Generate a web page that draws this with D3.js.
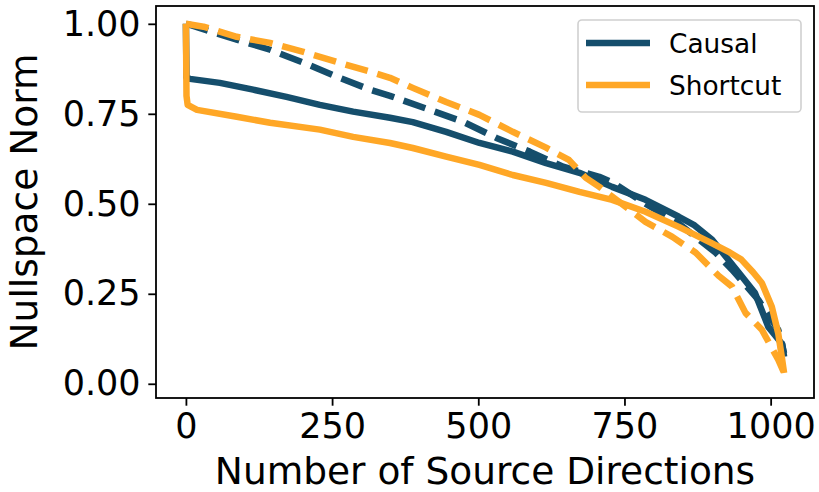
<!DOCTYPE html>
<html>
<head>
<meta charset="utf-8">
<script src="https://cdn.jsdelivr.net/npm/d3@7"></script>
<style>
  body { margin: 0; background: #fff; }
  svg { display: block; font-family: "DejaVu Sans", sans-serif; }
</style>
</head>
<body>
<svg id="chart" width="819" height="492"></svg>
<script>
// values: [index, nullspace norm]
const causalSolid = [[0,1.0],[1,0.85],[7,0.847],[58,0.836],[115,0.817],[172,0.797],[229,0.775],[286,0.756],[349,0.739],[388,0.727],[445,0.70],[502,0.669],[559,0.645],[616,0.613],[673,0.586],[729,0.547],[786,0.511],[843,0.464],[870,0.44],[900,0.40],[920,0.36],[945,0.31],[973,0.253],[996,0.158],[1020,0.11],[1023,0.075]];
const causalDashed = [[0,1.0],[7,0.997],[87,0.956],[144,0.928],[201,0.892],[258,0.853],[315,0.817],[349,0.80],[417,0.761],[474,0.728],[531,0.683],[588,0.645],[645,0.603],[707,0.575],[729,0.56],[786,0.50],[843,0.445],[906,0.364],[934,0.317],[979,0.233],[1013,0.15],[1023,0.085]];
const shortcutSolid = [[0,1.0],[1,0.80],[3,0.775],[19,0.761],[87,0.742],[144,0.725],[229,0.706],[286,0.686],[349,0.669],[388,0.655],[445,0.631],[502,0.608],[559,0.58],[616,0.558],[673,0.533],[729,0.511],[786,0.478],[843,0.436],[900,0.39],[930,0.365],[950,0.345],[970,0.31],[985,0.28],[1002,0.214],[1013,0.14],[1019,0.075],[1023,0.03]];
const shortcutDashed = [[0,1.0],[30,0.992],[87,0.964],[144,0.947],[201,0.922],[258,0.894],[315,0.867],[349,0.85],[388,0.822],[445,0.783],[502,0.747],[559,0.70],[616,0.656],[655,0.622],[684,0.572],[707,0.547],[729,0.52],[786,0.45],[832,0.408],[872,0.364],[911,0.30],[934,0.27],[957,0.197],[985,0.15],[1013,0.067],[1023,0.03]];

const xTicks = [0, 250, 500, 750, 1000];
const yTicks = [0, 0.25, 0.5, 0.75, 1.0];
const seriesNames = ["Causal", "Shortcut"];
const colors = { Causal: "#154e6c", Shortcut: "#ffa726" };

const width = 819, height = 492;
const margin = { top: 6, right: 5, bottom: 94, left: 156 };

const svg = d3.select("#chart");

const xscale = d3.scaleLinear()
    .domain([-51.15, 1074.15])
    .range([margin.left, width - margin.right]);
const yscale = d3.scaleLinear()
    .domain([-0.0395, 1.0495])
    .range([height - margin.bottom, margin.top]);

const line = d3.line()
    .x(d => xscale(d[0]))
    .y(d => yscale(d[1]));

const plot = svg.append("g");

const lines = [
    { data: causalSolid, color: colors.Causal, dash: null },
    { data: causalDashed, color: colors.Causal, dash: "23,10" },
    { data: shortcutSolid, color: colors.Shortcut, dash: null },
    { data: shortcutDashed, color: colors.Shortcut, dash: "23,10" },
];

lines.forEach(l => {
    plot.append("path")
        .datum(l.data)
        .attr("fill", "none")
        .attr("stroke", l.color)
        .attr("stroke-width", 6.5)
        .attr("stroke-linejoin", "round")
        .attr("stroke-dasharray", l.dash)
        .attr("d", line);
});

// axes
const xAxis = svg.append("g")
    .attr("transform", `translate(0, ${height - margin.bottom})`)
    .call(d3.axisBottom(xscale).tickValues(xTicks).tickFormat(d3.format("d"))
        .tickSize(7.7).tickPadding(7.7).tickSizeOuter(0));
const yAxis = svg.append("g")
    .attr("transform", `translate(${margin.left}, 0)`)
    .call(d3.axisLeft(yscale).tickValues(yTicks).tickFormat(d3.format(".2f"))
        .tickSize(7.7).tickPadding(7.7).tickSizeOuter(0));

[xAxis, yAxis].forEach(a => {
    a.select(".domain").remove();
    a.selectAll("line").attr("stroke", "#000").attr("stroke-width", 1.8);
    a.selectAll("text")
        .attr("font-family", "DejaVu Sans")
        .attr("font-size", 35)
        .attr("fill", "#000");
});

// frame
svg.append("rect")
    .attr("x", margin.left)
    .attr("y", margin.top)
    .attr("width", width - margin.left - margin.right)
    .attr("height", height - margin.top - margin.bottom)
    .attr("fill", "none")
    .attr("stroke", "#000")
    .attr("stroke-width", 1.8);

// axis labels
svg.append("text")
    .attr("x", (margin.left + width - margin.right) / 2)
    .attr("y", 484)
    .attr("text-anchor", "middle")
    .attr("font-size", 37.5)
    .text("Number of Source Directions");

svg.append("text")
    .attr("transform", `translate(37, ${(margin.top + height - margin.bottom) / 2}) rotate(-90)`)
    .attr("text-anchor", "middle")
    .attr("font-size", 37.5)
    .text("Nullspace Norm");

// legend
const legend = svg.append("g");
legend.append("rect")
    .attr("x", 578).attr("y", 20)
    .attr("width", 223).attr("height", 92)
    .attr("rx", 4)
    .attr("fill", "#fff").attr("fill-opacity", 0.8)
    .attr("stroke", "#d0d0d0").attr("stroke-width", 1.6);

seriesNames.forEach((name, i) => {
    const y = 43 + i * 42;
    legend.append("line")
        .attr("x1", 586).attr("x2", 650)
        .attr("y1", y).attr("y2", y)
        .attr("stroke", colors[name])
        .attr("stroke-width", 6.5);
    legend.append("text")
        .attr("x", 669)
        .attr("y", y + 9.5)
        .attr("font-size", 26.4)
        .text(name);
});
</script>
</body>
</html>
